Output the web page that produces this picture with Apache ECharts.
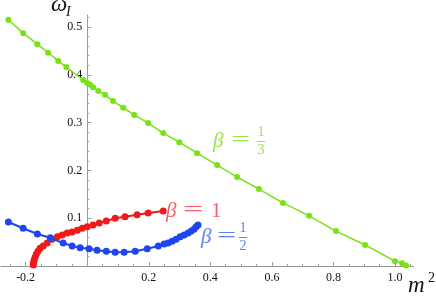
<!DOCTYPE html>
<html><head><meta charset="utf-8">
<script src="https://cdn.jsdelivr.net/npm/echarts@6/dist/echarts.min.js"></script>
<style>html,body{margin:0;padding:0;background:#fff}#c{width:436px;height:296px}</style>
</head><body><div id="c"></div>
<script>
// beta = 1/3 (green)
const greenX = [-0.256,-0.208,-0.162,-0.127,-0.094,-0.068,-0.013,0.0,0.010,0.019,0.036,0.058,0.084,0.117,0.153,0.198,0.247,0.299,0.357,0.422,0.487,0.558,0.636,0.721,0.808,0.903,1.000,1.023,1.036];
const greenY = [0.515,0.487,0.464,0.446,0.429,0.416,0.389,0.383,0.379,0.374,0.366,0.358,0.345,0.331,0.316,0.299,0.278,0.259,0.236,0.211,0.186,0.161,0.132,0.105,0.073,0.044,0.010,0.006,0.001];
// beta = 1 (red)
const redX = [-0.175,-0.174,-0.172,-0.169,-0.165,-0.160,-0.153,-0.143,-0.130,-0.114,-0.097,-0.081,-0.065,-0.049,-0.032,-0.016,0.0,0.019,0.039,0.062,0.091,0.123,0.162,0.198,0.247];
const redY = [0.002,0.008,0.013,0.019,0.025,0.031,0.037,0.042,0.048,0.056,0.061,0.065,0.069,0.071,0.075,0.079,0.082,0.086,0.090,0.094,0.100,0.103,0.107,0.111,0.115];
// beta = 1/2 (blue)
const blueX = [-0.256,-0.208,-0.162,-0.120,-0.078,-0.049,-0.023,0.006,0.032,0.062,0.091,0.120,0.156,0.195,0.231,0.250,0.263,0.276,0.289,0.302,0.315,0.328,0.338,0.347,0.354,0.360];
const blueY = [0.092,0.079,0.067,0.059,0.048,0.042,0.038,0.036,0.033,0.031,0.029,0.029,0.031,0.036,0.042,0.046,0.048,0.052,0.056,0.061,0.065,0.069,0.073,0.077,0.082,0.086];
// tick labels
const xTickLabels = [-0.2,0.2,0.4,0.6,0.8,1.0];
const yTickLabels = [0.1,0.2,0.3,0.4,0.5];

const zip = (a,b) => a.map((v,i)=>[v,b[i]]);
const xMinor = [], yMinor = [];
for (let i=-5;i<=21;i++){ const v=+(i*0.05).toFixed(2); if (i%4!==0) xMinor.push(v); }
for (let i=1;i<=26;i++){ const v=+(i*0.02).toFixed(2); if (i%5!==0) yMinor.push(v); }

const SERIF = '"Liberation Serif", "DejaVu Serif", serif';
const axisCol = '#9a9a9a';
const XMIN=-0.28, XMAX=1.06, YMIN=0, YMAX=0.525;
const GL=1, GR=22.5;
const plotW = 436-GL-GR;
const yAxisOffset = -((0-XMIN)/(XMAX-XMIN))*plotW; // move y axis to x = 0

function frac(x, y, num, den, color, cx){
  return {type:'group', x:x, y:y, children:[
    {type:'text', x:0, y:0, style:{text:'β', font:'italic 21px '+SERIF, fill:color, verticalAlign:'middle'}},
    {type:'text', x:cx[0], y:0, scaleX:1.7, style:{text:'=', font:'20px '+SERIF, fill:color, verticalAlign:'middle'}},
    {type:'text', x:cx[1], y:-9, style:{text:num, font:'14px '+SERIF, fill:color, align:'center', verticalAlign:'middle'}},
    {type:'line', shape:{x1:cx[1]-4, y1:0.5, x2:cx[1]+4, y2:0.5}, style:{stroke:color, lineWidth:1}},
    {type:'text', x:cx[1], y:9, style:{text:den, font:'14px '+SERIF, fill:color, align:'center', verticalAlign:'middle'}}
  ]};
}

const chart = echarts.init(document.getElementById('c'));
chart.setOption({
  animation:false,
  backgroundColor:'#fff',
  grid:{left:GL, right:GR, top:15, bottom:30, containLabel:false, outerBoundsMode:'none'},
  xAxis:[
    {type:'value', min:XMIN, max:XMAX,
     axisLine:{onZero:false, lineStyle:{color:axisCol, width:1}},
     axisTick:{inside:true, length:4, customValues:xTickLabels, lineStyle:{color:axisCol}},
     axisLabel:{customValues:xTickLabels, fontFamily:SERIF, fontSize:12, color:'#111', margin:6, formatter:v=>v.toFixed(1)},
     splitLine:{show:false}},
    {type:'value', min:XMIN, max:XMAX, position:'bottom',
     axisLine:{show:false, onZero:false},
     axisTick:{inside:true, length:2, customValues:xMinor, lineStyle:{color:axisCol}},
     axisLabel:{show:false}, splitLine:{show:false}}
  ],
  yAxis:[
    {type:'value', min:YMIN, max:YMAX, position:'left', offset:yAxisOffset,
     axisLine:{onZero:false, lineStyle:{color:axisCol, width:1}},
     axisTick:{inside:true, length:4, customValues:yTickLabels, lineStyle:{color:axisCol}},
     axisLabel:{customValues:yTickLabels, fontFamily:SERIF, fontSize:12, color:'#111', margin:5, formatter:v=>v.toFixed(1)},
     splitLine:{show:false}},
    {type:'value', min:YMIN, max:YMAX, position:'left', offset:yAxisOffset,
     axisLine:{show:false, onZero:false},
     axisTick:{inside:true, length:2, customValues:yMinor, lineStyle:{color:axisCol}},
     axisLabel:{show:false}, splitLine:{show:false}}
  ],
  series:[
    {name:'b13', type:'line', data:zip(greenX,greenY), symbol:'circle', symbolSize:6,
     lineStyle:{color:'#78e214', width:1.5}, itemStyle:{color:'#78e214'}, z:2},
    {name:'b1', type:'line', data:zip(redX,redY), symbol:'circle', symbolSize:7,
     lineStyle:{color:'#f01a1a', width:2}, itemStyle:{color:'#f01a1a'}, z:3},
    {name:'b12', type:'line', data:zip(blueX,blueY), symbol:'circle', symbolSize:7,
     lineStyle:{color:'#1f45ee', width:2}, itemStyle:{color:'#1f45ee'}, z:4}
  ],
  graphic:[
    {type:'group', x:166, y:211, children:[
      {type:'text', x:0, y:0, style:{text:'β', font:'italic 21px '+SERIF, fill:'#f5606c', verticalAlign:'middle'}},
      {type:'text', x:17, y:0, scaleX:1.8, style:{text:'=', font:'20px '+SERIF, fill:'#f5606c', verticalAlign:'middle'}},
      {type:'text', x:45, y:0, style:{text:'1', font:'21px '+SERIF, fill:'#f5606c', verticalAlign:'middle'}}
    ]},
    frac(201, 237, '1', '2', '#5a82f2', [16, 42]),
    frac(213, 141, '1', '3', '#9be24a', [18, 48]),
    {type:'text', x:51, y:5, style:{text:'ω', font:'italic 23px '+SERIF, fill:'#111', verticalAlign:'middle'}},
    {type:'text', x:66, y:12, style:{text:'I', font:'italic 14px '+SERIF, fill:'#111', verticalAlign:'middle'}},
    {type:'text', x:408, y:286, style:{text:'m', font:'italic 23px '+SERIF, fill:'#111', verticalAlign:'middle'}},
    {type:'text', x:428, y:278, style:{text:'2', font:'14px '+SERIF, fill:'#111', verticalAlign:'middle'}}
  ]
});
</script>
</body></html>
